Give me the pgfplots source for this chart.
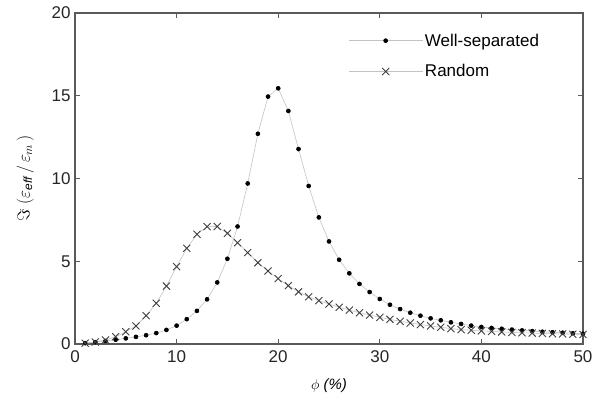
\documentclass[border=0pt]{standalone}
\usepackage{fontspec}
\setmainfont{Liberation Sans}
\usepackage{pgfplots}
\pgfplotsset{compat=1.18}

\definecolor{axgray}{RGB}{90,90,90}
\definecolor{linegray}{RGB}{195,195,195}

\begin{document}
\begin{tikzpicture}
\begin{axis}[
  scale only axis,
  width=508pt, height=331pt,
  xmin=0, xmax=50, ymin=0, ymax=20,
  xtick={0,10,...,50}, ytick={0,5,...,20},
  tick align=inside, major tick length=5pt,
  tick style={axgray, line width=0.8pt},
  axis line style={axgray, line width=1.4pt},
  tick label style={font=\fontsize{17}{20}\selectfont, text=black!85},
  /pgf/number format/assume math mode=true,
  xticklabel style={yshift=-3pt},
  yticklabel style={xshift=-1pt},
  xlabel={$\phi$ \textit{(\%)}},
  xlabel style={font=\fontsize{15}{18}\selectfont, at={(axis description cs:0.5,-0.125)}, anchor=center},
  ylabel={$\Im\;(\varepsilon_{\mathit{eff}}\,/\,\varepsilon_{m}\,)$},
  ylabel style={font=\fontsize{17}{20}\selectfont, at={(axis description cs:-0.098,0.5)}, anchor=center},
  legend style={at={(0.522,0.965)}, anchor=north west, draw=none, fill=white,
                font=\fontsize{17}{20}\selectfont, row sep=13pt,
                inner xsep=8pt, inner ysep=7pt},
  legend cell align=left,
  every axis legend/.append style={legend image code/.code={
      \draw[linegray, line width=0.6pt] (0pt,0pt) -- (74pt,0pt);
      \draw[black, #1] plot coordinates {(37pt,0pt)};}},
]
\addplot[linegray, line width=0.6pt, mark=*, mark size=2pt,
         mark options={fill=black, draw=black}]
  coordinates{
  (1,0.05)(2,0.11)(3,0.18)(4,0.26)(5,0.34)(6,0.43)(7,0.53)(8,0.66)(9,0.85)(10,1.11)
  (11,1.50)(12,2.00)(13,2.70)(14,3.72)(15,5.15)(16,7.10)(17,9.70)(18,12.70)(19,14.95)(20,15.45)
  (21,14.08)(22,11.78)(23,9.55)(24,7.65)(25,6.20)(26,5.09)(27,4.27)(28,3.63)(29,3.14)(30,2.72)
  (31,2.37)(32,2.11)(33,1.89)(34,1.71)(35,1.55)(36,1.43)(37,1.31)(38,1.21)(39,1.11)(40,1.03)
  (41,0.97)(42,0.92)(43,0.87)(44,0.82)(45,0.78)(46,0.74)(47,0.71)(48,0.68)(49,0.65)(50,0.62)};
\addlegendentry{Well-separated}
\addplot[linegray, line width=0.6pt, mark=x, mark size=5pt,
         mark options={draw=black!75, line width=0.9pt}]
  coordinates{
  (1,0.05)(2,0.12)(3,0.24)(4,0.44)(5,0.74)(6,1.09)(7,1.71)(8,2.46)(9,3.50)(10,4.67)
  (11,5.78)(12,6.63)(13,7.09)(14,7.10)(15,6.69)(16,6.12)(17,5.52)(18,4.91)(19,4.41)(20,3.95)
  (21,3.52)(22,3.15)(23,2.85)(24,2.62)(25,2.42)(26,2.22)(27,2.05)(28,1.89)(29,1.75)(30,1.61)
  (31,1.49)(32,1.37)(33,1.27)(34,1.17)(35,1.09)(36,1.01)(37,0.93)(38,0.87)(39,0.83)(40,0.79)
  (41,0.76)(42,0.73)(43,0.70)(44,0.68)(45,0.66)(46,0.64)(47,0.62)(48,0.61)(49,0.59)(50,0.58)};
\addlegendentry{Random}
\end{axis}
\pgfresetboundingbox
\path (-75pt,-57pt) rectangle (517pt,344pt);
\end{tikzpicture}
\end{document}
